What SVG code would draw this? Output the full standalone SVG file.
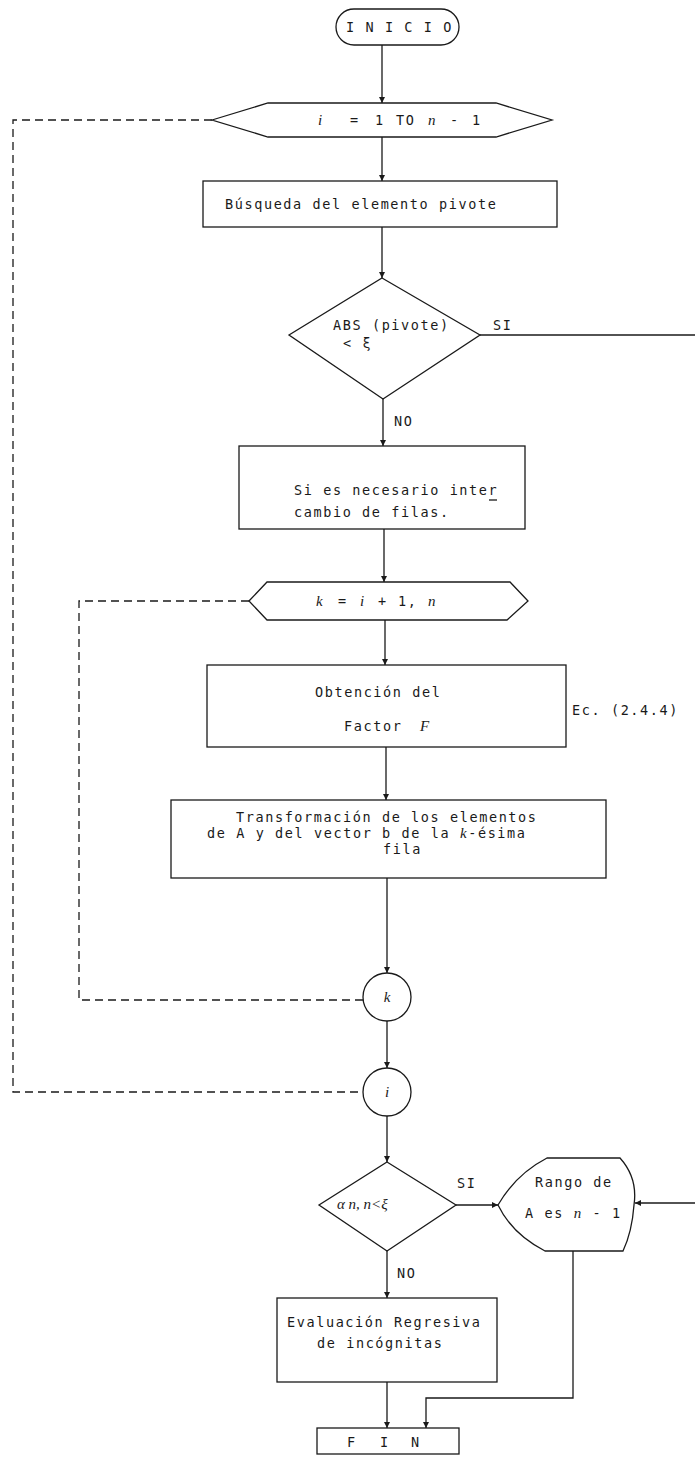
<svg xmlns="http://www.w3.org/2000/svg" width="695" height="1457" viewBox="0 0 695 1457">
<style>
  .shape{fill:none;stroke:#1a1a1a;stroke-width:1.3}
  .line{fill:none;stroke:#1a1a1a;stroke-width:1.3}
  .dash{fill:none;stroke:#1a1a1a;stroke-width:1.3;stroke-dasharray:8 5}
  .t{font-family:"DejaVu Sans Mono","Liberation Mono",monospace;font-size:13.5px;fill:#1a1a1a;letter-spacing:1.6px}
  .m{font-family:"Liberation Serif","DejaVu Serif",serif;font-style:italic;font-size:15px}
</style>
<defs>
  <marker id="arrow" viewBox="0 0 10 10" refX="10" refY="5" markerWidth="6" markerHeight="7" orient="auto" markerUnits="userSpaceOnUse">
    <path d="M0,0 L10,5 L0,10 z" fill="#1a1a1a"/>
  </marker>
</defs>
<rect width="695" height="1457" fill="#ffffff"/>

<!-- connectors -->
<g id="connectors">
  <path class="line" d="M382,45 V103" marker-end="url(#arrow)"/>
  <path class="line" d="M382,137 V181" marker-end="url(#arrow)"/>
  <path class="line" d="M382,227 V278" marker-end="url(#arrow)"/>
  <path class="line" d="M480,335 H695"/>
  <path class="line" d="M383,399 V446" marker-end="url(#arrow)"/>
  <path class="line" d="M384,529 V582" marker-end="url(#arrow)"/>
  <path class="line" d="M385,620 V665" marker-end="url(#arrow)"/>
  <path class="line" d="M386,747 V800" marker-end="url(#arrow)"/>
  <path class="line" d="M387,878 V973" marker-end="url(#arrow)"/>
  <path class="line" d="M387,1021 V1068" marker-end="url(#arrow)"/>
  <path class="line" d="M387,1116 V1162" marker-end="url(#arrow)"/>
  <path class="line" d="M456,1205 H498" marker-end="url(#arrow)"/>
  <path class="line" d="M695,1203 H635" marker-end="url(#arrow)"/>
  <path class="line" d="M387,1251 V1298" marker-end="url(#arrow)"/>
  <path class="line" d="M387,1382 V1428" marker-end="url(#arrow)"/>
  <path class="line" d="M573,1251 V1398 H426 V1428" marker-end="url(#arrow)"/>
  <!-- loop returns -->
  <path class="dash" d="M212,120 H13 V1092 H363"/>
  <path class="dash" d="M249,601 H79 V1000 H363"/>
  <!-- branch labels -->
  <text class="t" x="493" y="330">SI</text>
  <text class="t" x="394" y="426">NO</text>
  <text class="t" x="457" y="1188">SI</text>
  <text class="t" x="397" y="1278">NO</text>
  <text class="t" x="572" y="715">Ec. (2.4.4)</text>
</g>

<g id="inicio">
  <rect class="shape" x="336" y="9" width="123" height="36" rx="18"/>
  <text class="t" x="346" y="32">I N I C I O</text>
</g>

<g id="bucle-i">
  <polygon class="shape" points="212,120 268,103 496,103 552,120 496,137 268,137"/>
  <text class="t" y="125"><tspan class="m" x="318">i</tspan><tspan x="350">=</tspan><tspan x="375">1</tspan><tspan x="396">TO</tspan><tspan class="m" x="428">n</tspan><tspan x="450">-</tspan><tspan x="472">1</tspan></text>
</g>

<g id="busqueda">
  <rect class="shape" x="203" y="181" width="354" height="46"/>
  <text class="t" x="225" y="209">Búsqueda del elemento pivote</text>
</g>

<g id="decision-pivote">
  <polygon class="shape" points="382,278 480,335 383,399 289,335"/>
  <text class="t" x="333" y="330">ABS (pivote)</text>
  <text class="t" x="343" y="348">&lt; ξ</text>
</g>

<g id="intercambio">
  <rect class="shape" x="239" y="446" width="286" height="83"/>
  <text class="t" x="294" y="495">Si es necesario inter</text>
  <line class="line" x1="489" y1="500" x2="497" y2="500"/>
  <text class="t" x="294" y="517">cambio de filas.</text>
</g>

<g id="bucle-k">
  <polygon class="shape" points="249,601 267,582 510,582 528,601 507,620 267,620"/>
  <text class="t" y="606"><tspan class="m" x="316">k</tspan><tspan x="338">=</tspan><tspan class="m" x="360">i</tspan><tspan x="378">+</tspan><tspan x="398">1,</tspan><tspan class="m" x="428">n</tspan></text>
</g>

<g id="factor">
  <rect class="shape" x="207" y="665" width="359" height="82"/>
  <text class="t" x="315" y="697">Obtención del</text>
  <text class="t" x="344" y="731">Factor <tspan class="m" dx="8">F</tspan></text>
</g>

<g id="transformacion">
  <rect class="shape" x="171" y="800" width="435" height="78"/>
  <text class="t" x="236" y="822">Transformación de los elementos</text>
  <text class="t" x="207" y="838">de A y del vector b de la <tspan class="m">k</tspan>-ésima</text>
  <text class="t" x="383" y="854">fila</text>
</g>

<g id="conector-k">
  <circle class="shape" cx="387" cy="997" r="24"/>
  <text class="m" x="387" y="1002" text-anchor="middle" fill="#1a1a1a">k</text>
</g>

<g id="conector-i">
  <circle class="shape" cx="387" cy="1092" r="24"/>
  <text class="m" x="387" y="1097" text-anchor="middle" fill="#1a1a1a">i</text>
</g>

<g id="decision-ann">
  <polygon class="shape" points="387,1162 456,1205 387,1251 319,1205"/>
  <text class="m" x="337" y="1209" fill="#1a1a1a">α n, n&lt;ξ</text>
</g>

<g id="rango">
  <path class="shape" d="M547,1158 H620 Q638,1178 634,1205 Q632,1232 623,1251 H545 Q512,1234 498,1205 Q516,1174 547,1158 Z"/>
  <text class="t" x="535" y="1187">Rango  de</text>
  <text class="t" x="525" y="1218">A es <tspan class="m">n</tspan> - 1</text>
</g>

<g id="evaluacion">
  <rect class="shape" x="277" y="1298" width="220" height="84"/>
  <text class="t" x="287" y="1327">Evaluación Regresiva</text>
  <text class="t" x="317" y="1348">de incógnitas</text>
</g>

<g id="fin">
  <rect class="shape" x="317" y="1428" width="142" height="26"/>
  <text class="t" y="1447"><tspan x="347">F</tspan><tspan x="380">I</tspan><tspan x="411">N</tspan></text>
</g>
</svg>
